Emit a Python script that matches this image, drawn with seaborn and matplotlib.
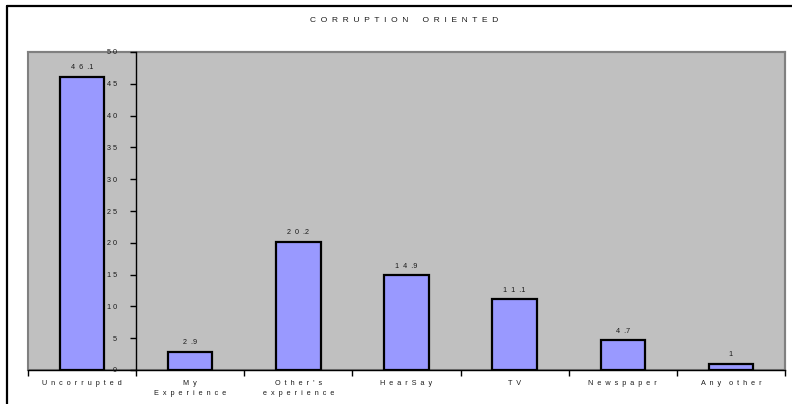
import matplotlib
matplotlib.use("Agg")
import matplotlib.pyplot as plt
from matplotlib.patches import Rectangle
from matplotlib.lines import Line2D
import seaborn as sns
import pandas as pd

# Survey results: sources that shape opinion on corruption (percent)
categories = ["Uncorrupted", "My\nExperience", "Other's\nexperience", "HearSay",
              "TV", "Newspaper", "Any other"]
values = [46.1, 2.9, 20.2, 14.9, 11.1, 4.7, 1]
value_labels = ["46.1", "2.9", "20.2", "14.9", "11.1", "4.7", "1"]
y_ticks = [0, 5, 10, 15, 20, 25, 30, 35, 40, 45, 50]
title = "CORRUPTION ORIENTED"


def spaced(s, gap="  ", word_gap="    "):
    """Spread letters apart the way the chart labels are typeset."""
    out = []
    for line in s.split("\n"):
        words = [gap.join(w) for w in line.split(" ")]
        line = word_gap.join(words)
        out.append(line.replace(gap + "." + gap, gap + "."))
    return "\n".join(out)


sns.set_theme(style="white")
plt.rcParams["font.family"] = ["Liberation Sans", "DejaVu Sans"]

fig = plt.figure(figsize=(7.92, 4.04), dpi=100)
ax = fig.add_axes([28 / 792, 1 - 370 / 404, (785 - 28) / 792, (370 - 52) / 404])
ax.set_facecolor("#C0C0C0")

df = pd.DataFrame({"source": categories, "pct": values})
sns.barplot(data=df, x="source", y="pct", color="#9999FF", saturation=1,
            edgecolor="black", linewidth=1.6, width=0.41, ax=ax)
for bar in ax.patches:
    bar.set_zorder(2)

ax.set_xlim(-0.5, len(categories) - 0.5)
ax.set_ylim(0, 50)
ax.set_xlabel("")
ax.set_ylabel("")

FS = 5.2
TXT = "#1a1a1a"

# value labels above the bars
for i, (v, lab) in enumerate(zip(values, value_labels)):
    ax.annotate(spaced(lab), (i, v), xytext=(0, 4), textcoords="offset points",
                ha="center", va="bottom", fontsize=FS, color=TXT)

# y axis crosses between the first and second category
for side in ["top", "right"]:
    ax.spines[side].set_visible(True)
    ax.spines[side].set_color("#808080")
    ax.spines[side].set_linewidth(1.5)
ax.spines["left"].set_position(("data", 0.5))
ax.spines["left"].set_color("black")
ax.spines["left"].set_linewidth(1.0)
ax.spines["left"].set_zorder(4)
ax.spines["bottom"].set_color("black")
ax.spines["bottom"].set_linewidth(1.0)
ax.add_patch(Rectangle((0, 0), 1, 1, transform=ax.transAxes, fill=False,
                       edgecolor="#808080", linewidth=1.5, zorder=0.5, clip_on=False))

ax.set_yticks(y_ticks)
ax.set_yticklabels([spaced(str(t), " ") for t in y_ticks])
ax.tick_params(axis="y", which="major", direction="out", length=4, width=1,
               color="black", pad=10, labelsize=FS, labelcolor=TXT, left=True)
ax.yaxis.set_zorder(5)

ax.set_xticks(range(len(categories)))
ax.set_xticklabels([spaced(c) for c in categories], linespacing=1.6)
ax.set_xticks([i - 0.5 for i in range(len(categories) + 1)], minor=True)
ax.tick_params(axis="x", which="major", length=0, pad=7, labelsize=FS,
               labelcolor=TXT)
ax.tick_params(axis="x", which="minor", direction="out", length=4, width=1,
               color="black", bottom=True)

fig.text(404 / 792, 1 - 21 / 404, spaced(title, "  ", "      "),
         ha="center", va="center", fontsize=6, color=TXT)

# outer chart frame
fig.add_artist(Line2D([7 / 792, 1.0], [1 - 6 / 404, 1 - 6 / 404],
                      transform=fig.transFigure, color="black", linewidth=1.6))
fig.add_artist(Line2D([7 / 792, 7 / 792], [0.0, 1 - 6 / 404],
                      transform=fig.transFigure, color="black", linewidth=1.6))

fig.savefig("out.png", dpi=100, facecolor="white")
